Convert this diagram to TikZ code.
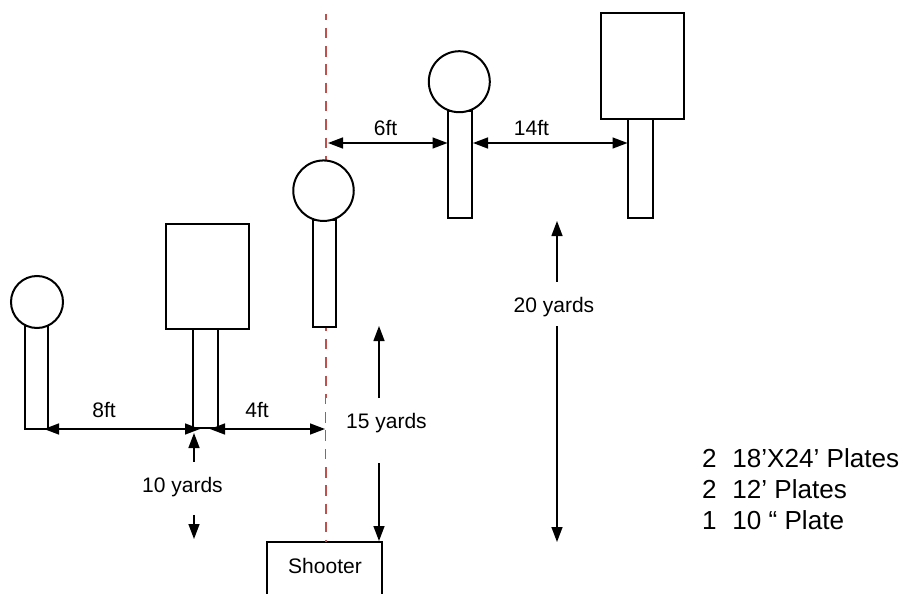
\documentclass[tikz,border=0pt]{standalone}
\usepackage{fontspec}
\setmainfont{Liberation Sans}
\usetikzlibrary{arrows.meta,calc}
\definecolor{redline}{HTML}{C0504D}
\tikzset{
  x=1pt,y=-1pt,
  shapeline/.style={draw=black,line width=2pt,fill=white,inner sep=0pt,outer sep=0pt},
  disc/.style={shapeline,circle,minimum size=#1},
  lab/.style={font=\fontsize{21}{24}\selectfont,inner sep=0pt,outer sep=0pt,anchor=center},
  gapmask/.style={fill=white,inner sep=0pt,outer sep=0pt},
  dim/.style={draw=black,line width=1.4pt,{Triangle[length=15pt,width=11pt]}-{Triangle[length=15pt,width=11pt]}},
  dimone/.style={draw=black,line width=1.4pt,-{Triangle[length=15pt,width=11pt]}},
}
\begin{document}
\begin{tikzpicture}
\useasboundingbox (0,0) rectangle (903,594);
% centre line
\coordinate (ctop) at (326,14);
\node[shapeline,rectangle,minimum width=115.5pt,minimum height=70pt,anchor=north west] (shooter) at (266.7,542.3) {};
\draw[redline,line width=2.4pt,dash pattern=on 10.5pt off 7.8pt,dash phase=4.5pt] (ctop) -- (shooter.north -| ctop);
% posts and plates
\node[shapeline,minimum width=23pt,minimum height=107pt] (p1) at (36.5,375.5) {};
\node[disc=52pt] (c1) at (37,302) {};
\node[shapeline,minimum width=25pt,minimum height=99pt] (p2) at (205.5,378.5) {};
\node[shapeline,minimum width=83pt,minimum height=105pt] (r2) at (207.5,276.5) {};
\node[shapeline,minimum width=23.5pt,minimum height=107pt] (p3) at (324.5,273.5) {};
\node[disc=60.5pt] (c3) at (323.5,190.7) {};
\node[shapeline,minimum width=24pt,minimum height=107pt] (p4) at (460.3,164.5) {};
\node[disc=61pt] (c4) at (459.3,81.7) {};
\node[shapeline,minimum width=25pt,minimum height=100pt] (p5) at (640.5,168) {};
\node[shapeline,minimum width=83.5pt,minimum height=105pt] (r5) at (642.5,66) {};
% gaps in the dimension lines
\node[gapmask,minimum width=78pt,minimum height=53pt] (m10) at (182,488.3) {};
\node[gapmask,minimum width=105pt,minimum height=65pt,anchor=west] (m15) at (326,430.5) {};
\node[gapmask,minimum width=82pt,minimum height=44.5pt] (m20) at (554,304) {};
% labels
\node[lab] (l10) at (182.5,487) {10 yards};
\node[lab] (l15) at (386.5,423.5) {15 yards};
\node[lab] (l20) at (554,307) {20 yards};
\node[lab] (l8) at (104,410) {8ft};
\node[lab] (l4) at (257,410) {4ft};
\node[lab] (l6) at (385.5,128) {6ft};
\node[lab] (l14) at (531.5,128) {14ft};
\node[lab] (ls) at (325,566) {Shooter};
\node[font=\fontsize{26.1}{31}\selectfont,anchor=north west,align=left,inner sep=0pt] (legend) at (702,448.5) {2\hspace{0.6em}18’X24’ Plates\\2\hspace{0.6em}12’ Plates\\1\hspace{0.6em}10 “ Plate};
% dimensions
\coordinate (a8l) at (44,429);
\coordinate (a8r) at (200,429);
\coordinate (a4l) at (210,429);
\coordinate (a4r) at (325,429);
\draw[dim] (a8l) -- (a8r);
\draw[dim] (a4l) -- (a4r);
\coordinate (a6l) at (328,143);
\coordinate (a6r) at (447.5,143);
\coordinate (a14l) at (473,143);
\coordinate (a14r) at (627.5,143);
\draw[dim] (a6l) -- (a6r);
\draw[dim] (a14l) -- (a14r);
\coordinate (t10) at (194,433);
\coordinate (b10) at (194,539);
\draw[dimone] (m10.north -| t10) -- (t10);
\draw[dimone] (m10.south -| b10) -- (b10);
\coordinate (t15) at (379,326);
\coordinate (b15) at (379,541);
\draw[dimone] (m15.north -| t15) -- (t15);
\draw[dimone] (m15.south -| b15) -- (b15);
\coordinate (t20) at (557,221);
\coordinate (b20) at (557,542);
\draw[dimone] (m20.north -| t20) -- (t20);
\draw[dimone] (m20.south -| b20) -- (b20);
\end{tikzpicture}
\end{document}
